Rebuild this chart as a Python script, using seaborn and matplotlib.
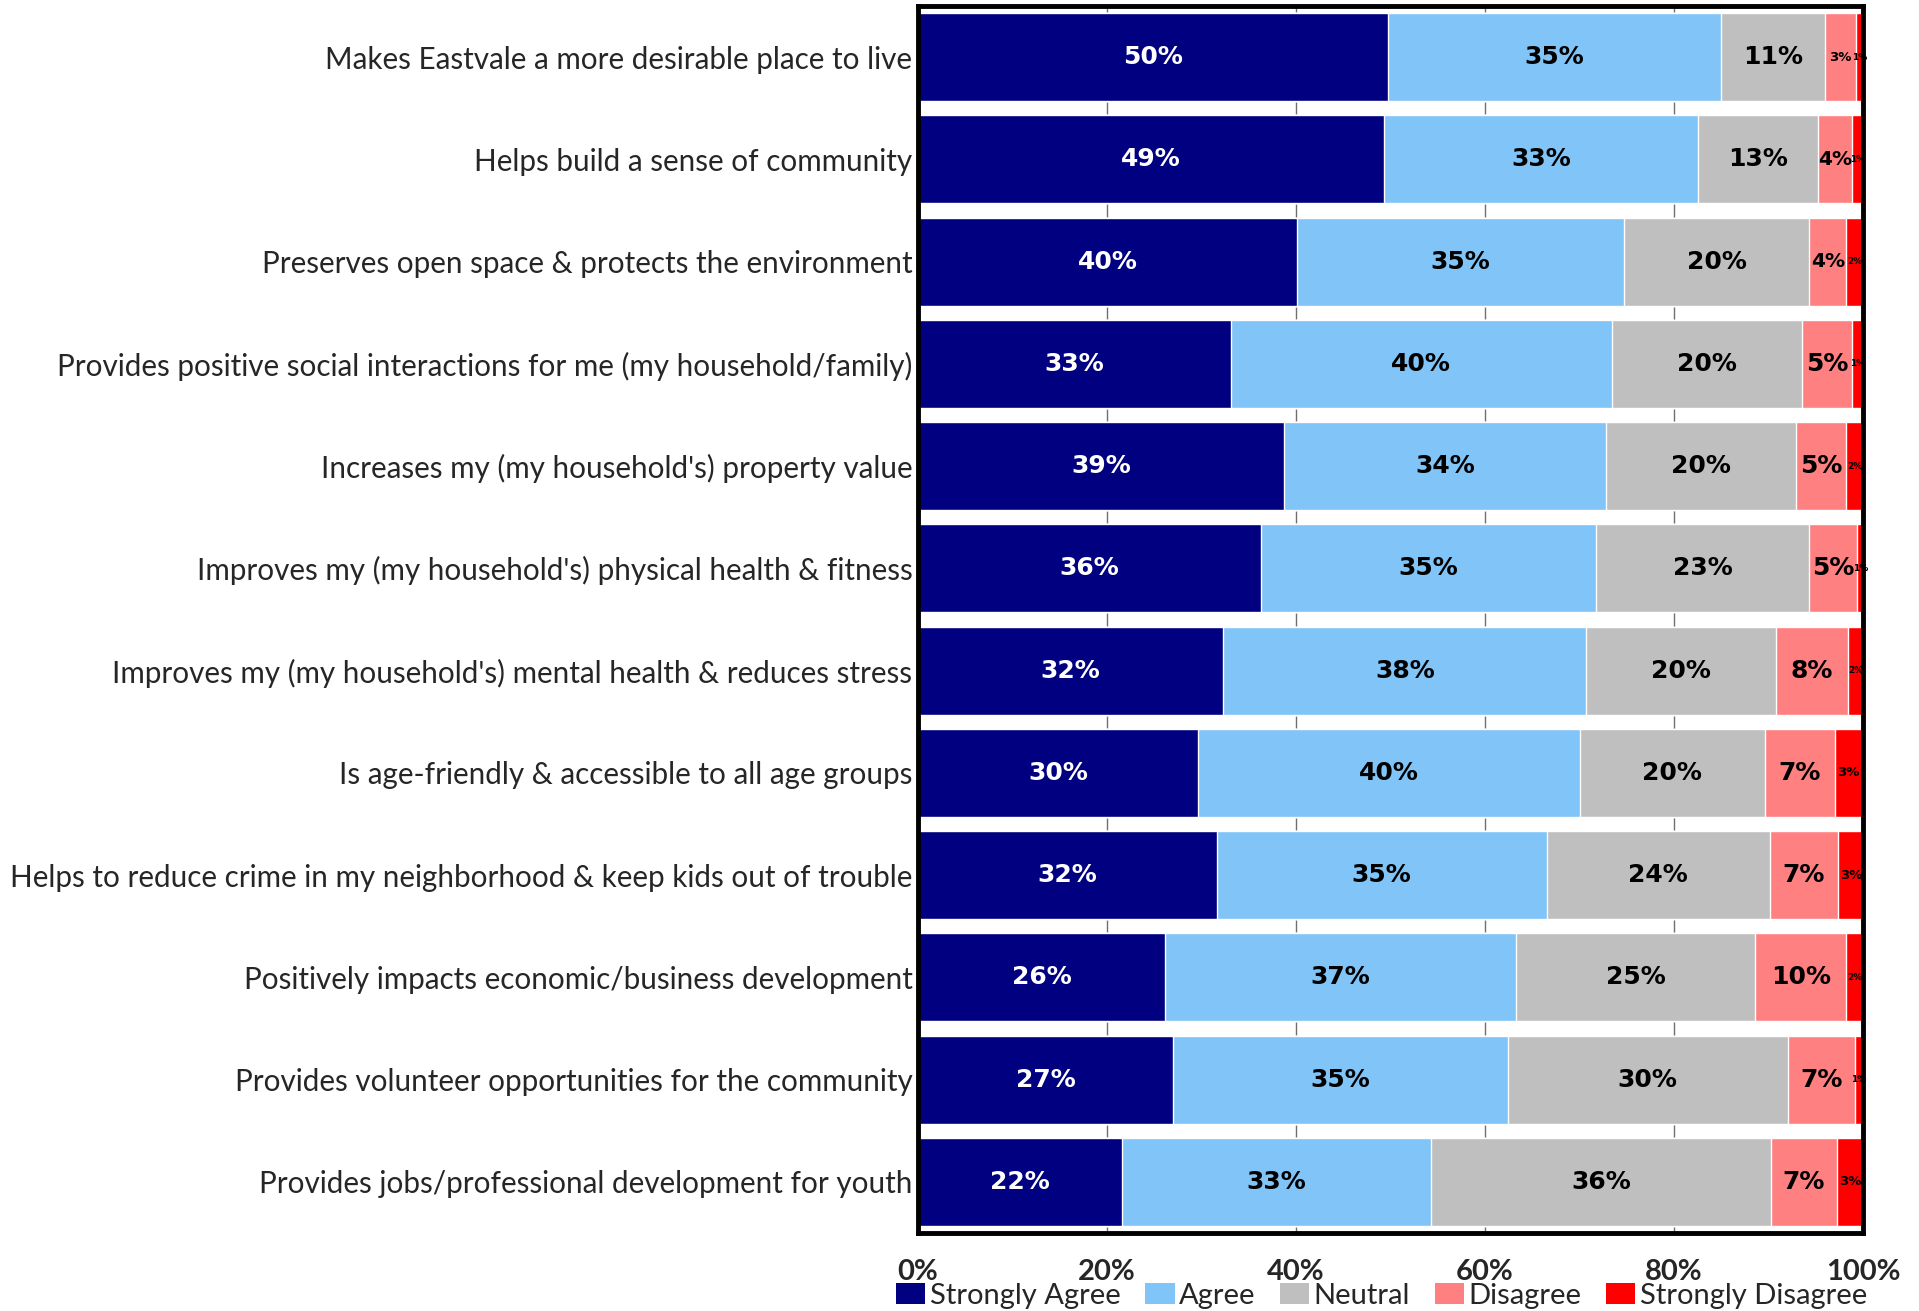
import numpy as np
import pandas as pd
import matplotlib
matplotlib.use("Agg")
import matplotlib.pyplot as plt
from matplotlib.patches import Patch
import seaborn as sns

categories = [
    "Makes Eastvale a more desirable place to live",
    "Helps build a sense of community",
    "Preserves open space & protects the environment",
    "Provides positive social interactions for me (my household/family)",
    "Increases my (my household's) property value",
    "Improves my (my household's) physical health & fitness",
    "Improves my (my household's) mental health & reduces stress",
    "Is age-friendly & accessible to all age groups",
    "Helps to reduce crime in my neighborhood & keep kids out of trouble",
    "Positively impacts economic/business development",
    "Provides volunteer opportunities for the community",
    "Provides jobs/professional development for youth",
]
strongly_agree = [49.7, 49.3, 40.1, 33.1, 38.7, 36.3, 32.3, 29.6, 31.6, 26.1, 27.0, 21.6]
agree = [35.3, 33.2, 34.6, 40.3, 34.1, 35.4, 38.4, 40.4, 34.9, 37.2, 35.4, 32.7]
neutral = [11.0, 12.7, 19.6, 20.1, 20.1, 22.6, 20.1, 19.6, 23.6, 25.3, 29.6, 35.9]
disagree = [3.2, 3.6, 3.9, 5.3, 5.3, 5.1, 7.6, 7.4, 7.2, 9.6, 7.1, 7.0]
strongly_disagree = [0.8, 1.3, 1.9, 1.2, 1.8, 0.6, 1.6, 2.9, 2.9, 1.9, 0.9, 2.9]

series_names = ["Strongly Agree", "Agree", "Neutral", "Disagree", "Strongly Disagree"]
series_colors = ["#000080", "#80C4F8", "#BFBFBF", "#FF8080", "#FF0000"]
label_colors = ["white", "black", "black", "black", "black"]
x_ticks = [0, 20, 40, 60, 80, 100]
x_tick_labels = ["0%", "20%", "40%", "60%", "80%", "100%"]

sns.set_theme(style="white")
plt.rcParams["font.family"] = ["Lato", "DejaVu Sans"]

df = pd.DataFrame({
    "category": categories,
    "Strongly Agree": strongly_agree,
    "Agree": agree,
    "Neutral": neutral,
    "Disagree": disagree,
    "Strongly Disagree": strongly_disagree,
})
cum = df[series_names].cumsum(axis=1)
cum["category"] = df["category"]

fig = plt.figure(figsize=(19.19, 13.11), dpi=100)
ax = fig.add_axes([0.4784, 0.0595, 0.4925, 0.936])

# draw cumulative bars from the right-most segment backwards
for name, color in reversed(list(zip(series_names, series_colors))):
    sns.barplot(data=cum, x=name, y="category",
                color=color, saturation=1, width=0.86, orient="h", ax=ax,
                zorder=2)

# segment labels
def label_size(v):
    if v < 2.5:
        return 6.5
    if v < 3.4:
        return 9.5
    if v < 4.5:
        return 14.5
    return 18

for i in range(len(categories)):
    left = 0.0
    for name, tc in zip(series_names, label_colors):
        v = df[name].iloc[i]
        ax.text(left + v / 2, i, f"{v:.0f}%", ha="center", va="center",
                color=tc, fontsize=label_size(v), fontweight="bold",
                family="DejaVu Sans", zorder=5)
        left += v

ax.set_xlim(0, 100)
ax.set_ylim(len(categories) - 0.5, -0.5)
ax.set_xlabel("")
ax.set_ylabel("")
ax.set_xticks(x_ticks)
ax.set_xticklabels(x_tick_labels, fontsize=21, fontweight="bold")
ax.tick_params(axis="x", length=0, pad=19)
ax.tick_params(axis="y", length=0, pad=4, labelsize=21.3)
ax.xaxis.grid(True, color="#6f6f6f", linewidth=1)
ax.yaxis.grid(False)
ax.set_axisbelow(True)
for sp in ax.spines.values():
    sp.set_visible(True)
    sp.set_color("black")
    sp.set_linewidth(3.5)
    sp.set_zorder(6)

handles = [Patch(facecolor=c, edgecolor="none") for c in series_colors]
fig.legend(handles, series_names, loc="center", bbox_to_anchor=(0.720, 0.0115),
           ncol=5, frameon=False, handlelength=1.0, handleheight=0.75,
           handletextpad=0.15, columnspacing=0.85, fontsize=21,
           borderaxespad=0, borderpad=0)

fig.savefig("out.png", dpi=100)
